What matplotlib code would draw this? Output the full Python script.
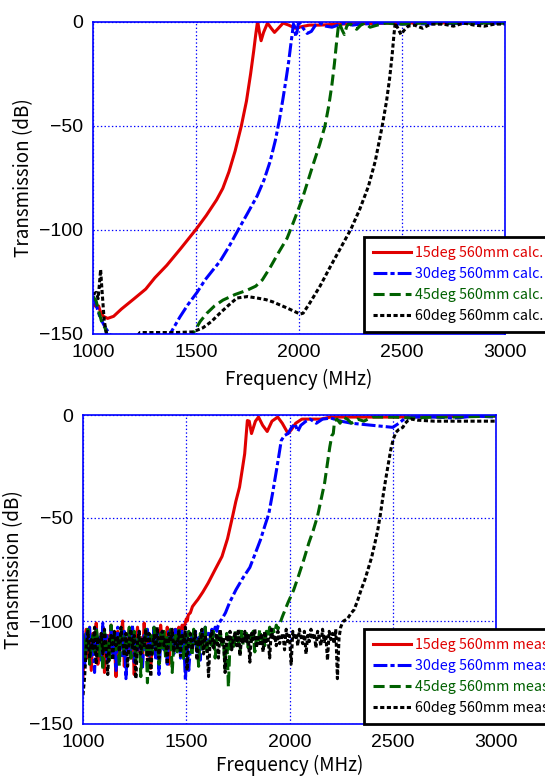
import numpy as np
import matplotlib
matplotlib.use("Agg")
import matplotlib.pyplot as plt

plt.rcParams['lines.scale_dashes'] = False
plt.rcParams['axes.unicode_minus'] = True

# ---------------- calculated curves (top) ----------------
calc15_f = [1000, 1010, 1020, 1027, 1035, 1050, 1071, 1100, 1138, 1200, 1256, 1300, 1358, 1425, 1501,
            1550, 1600, 1630, 1660, 1690, 1720, 1745, 1765, 1780, 1790, 1797, 1800, 1808, 1816, 1828,
            1847, 1865, 1881, 1900, 1923, 1950, 1982, 2000, 2050, 2100, 2200, 2300, 2500, 3000]
calc15_db = [-136, -136.5, -137, -136.5, -139, -141.5, -142.5, -141.5, -138, -133, -128.4, -123, -117, -109, -99.6,
             -93, -85.5, -80, -72, -62, -50, -38, -25, -14, -6, -1, 0, -5, -9, -5,
             -0.5, -3, -5, -3, -0.5, -1.5, -3, -2.5, -1.5, -1.5, -1, -0.8, -0.5, -0.3]

calc30_f = [1000, 1015, 1034, 1060, 1085, 1110, 1250, 1374, 1422, 1460, 1505, 1544, 1580, 1617, 1660,
            1699, 1750, 1797, 1830, 1860, 1885, 1905, 1922, 1938, 1950, 1960, 1968, 1973, 1978, 1984, 1990,
            1996, 2005, 2020, 2040, 2060, 2080, 2100, 2130, 2160, 2190, 2220, 2260, 2300, 2400, 2500, 3000]
calc30_db = [-132, -136, -142, -147, -150.5, -153, -165, -150, -141.8, -136, -130, -124, -119.5, -115, -108,
             -101, -92, -83.6, -76, -67, -57, -47, -37, -27, -19, -11, -5, -1, -2, -7, -5,
             -1, -0.5, -3, -5.5, -4.5, -1.5, -0.5, -2, -2.5, -1.5, -0.5, -1.5, -1, -0.5, -1, -0.5]

calc45_f = [1000, 1015, 1030, 1045, 1058, 1070, 1200, 1400, 1485, 1520, 1553, 1590, 1631, 1690, 1747,
            1790, 1822, 1860, 1900, 1942, 1974, 2016, 2067, 2100, 2126, 2145, 2160, 2172, 2181, 2190, 2196,
            2210, 2220, 2232, 2245, 2260, 2280, 2300, 2320, 2345, 2380, 2420, 2500, 2600, 3000]
calc45_db = [-132, -134, -140, -145, -147, -151, -170, -165, -150, -144, -140, -136.5, -133.7, -131, -129,
             -127, -124, -118, -111, -104, -96, -85, -69, -59, -50, -40, -30, -20, -11, -3, -0.5,
             -4, -6, -2, -0.5, -2, -3.5, -1.5, -0.5, -2.5, -1.5, -0.5, -1, -0.5, -0.5]

calc60_f = [1000, 1015, 1025, 1032, 1037, 1043, 1054, 1062, 1075, 1150, 1215, 1228, 1300, 1400, 1485,
            1534, 1575, 1616, 1660, 1699, 1750, 1796, 1840, 1874, 1942, 2005, 2020, 2053, 2102, 2150,
            2200, 2252, 2295, 2337, 2370, 2404, 2425, 2440, 2452, 2461, 2467, 2480, 2495, 2510, 2530,
            2560, 2600, 2640, 2700, 2750, 2800, 2850, 2900, 2950, 3000]
calc60_db = [-131, -130, -133, -125, -119, -128, -143, -148, -155, -165, -151, -149.3, -149.3, -149.3, -149,
             -147, -144, -140, -136, -132.7, -132, -132.7, -133.5, -134.6, -137.5, -140.4, -140, -135, -127, -118,
             -109, -99.6, -90, -79, -67, -50, -38, -27, -16, -6, -0.5, -3, -6, -4, -2,
             -1.5, -3, -1, -1, -2, -0.5, -1.5, -2, -1, -1]

# ---------------- measured curves (bottom) ----------------
# noise floor values, read every 8 MHz from 1000 MHz
noise_step = 8
meas15_noise = [
    -127, -111, -104, -118, -108, -124, -106, -113, -101, -121,
    -109, -116, -103, -125, -110, -107, -119, -102, -114, -111,
    -127, -105, -117, -108, -100, -122, -109, -113, -104, -118,
    -106, -126, -111, -103, -115, -108, -120, -101, -112, -117,
    -107, -123, -110, -104, -114, -109, -119, -102, -111, -106,
    -116, -103, -121, -108, -105, -112, -104, -109, -103, -106,
    -102, -104]
meas15_f = [1495, 1500, 1505, 1510, 1520, 1530, 1545, 1556, 1580, 1606, 1640, 1673, 1700, 1724, 1740,
            1758, 1772, 1783, 1790, 1796, 1805, 1816, 1835, 1850, 1870, 1892, 1915, 1943, 1965, 1993,
            2010, 2030, 2060, 2100, 2150, 2200, 2300, 2500, 3000]
meas15_db = [-101, -99, -100, -97, -96, -93, -91, -89.6, -86, -81.6, -75, -68.7, -60, -49.4, -42,
             -35, -26, -18.8, -10, -2.7, -3, -9, -3, -1, -5, -8, -3, -1, -4, -9,
             -7, -4, -2, -2, -2, -1, -1, -1, -0.5]

meas30_noise = [
    -110, -122, -106, -114, -103, -117, -109, -125, -104, -112,
    -108, -119, -101, -115, -107, -121, -110, -104, -116, -109,
    -124, -103, -113, -108, -118, -105, -128, -111, -106, -114,
    -102, -120, -109, -115, -105, -112, -123, -107, -110, -104,
    -117, -108, -113, -103, -119, -106, -126, -110, -105, -114,
    -109, -121, -104, -111, -108, -116, -103, -112, -107, -118,
    -105, -110, -129, -108, -124, -113, -106, -111, -104, -116,
    -108, -119, -105, -110, -103, -112, -106, -109, -104, -107,
    -103, -105]
meas30_f = [1655, 1665, 1673, 1690, 1710, 1741, 1775, 1808, 1835, 1859, 1880, 1900, 1918, 1934, 1948,
            1960, 1975, 1993, 2010, 2027, 2040, 2055, 2080, 2100, 2130, 2160, 2200, 2250, 2300, 2350,
            2400, 2450, 2500, 2530, 2560, 2600, 2700, 2800, 2900, 3000]
meas30_db = [-102, -100, -99, -96, -91, -84.8, -79, -74, -67, -60.7, -54, -47.8, -38, -28.5, -20,
             -12.4, -10, -9, -6, -4.3, -8, -5, -3, -2, -4, -2, -1.5, -3, -4, -4.5,
             -5, -5.5, -6, -4, -1.5, -1, -1, -1.5, -0.5, -1]

meas45_noise = [
    -106, -118, -109, -104, -121, -112, -107, -115, -103, -110,
    -117, -108, -124, -105, -113, -109, -119, -102, -111, -106,
    -114, -108, -122, -104, -110, -116, -107, -112, -103, -118,
    -109, -105, -120, -111, -106, -127, -108, -114, -104, -130,
    -110, -107, -116, -103, -112, -109, -121, -106, -113, -105,
    -118, -108, -111, -104, -125, -110, -107, -115, -103, -112,
    -109, -119, -106, -113, -105, -110, -117, -104, -111, -108,
    -122, -106, -114, -109, -103, -116, -110, -107, -112, -105,
    -118, -108, -111, -104, -113, -109, -123, -106, -132, -110,
    -107, -114, -105, -111, -108, -116, -104, -112, -109, -106,
    -113, -107, -110, -105, -115, -108, -111, -104, -109, -106,
    -112, -105, -108, -103, -107, -104, -106, -102, -104, -101]
meas45_f = [1958, 1965, 1993, 2020, 2044, 2070, 2094, 2115, 2136, 2155, 2170, 2183, 2195, 2205, 2212,
            2218, 2230, 2245, 2260, 2280, 2300, 2330, 2360, 2400, 2500, 2600, 2700, 2800, 3000]
meas45_db = [-100, -98, -91, -85, -78, -70, -62, -56, -49, -40, -33, -24, -15.6, -10, -9,
             -3, -2, -4, -1, -2, -4, -2, -3, -1, -1, -1.5, -1, -1, -0.5]

meas60_noise = [
    -136, -127, -112, -105, -118, -109, -114, -103, -121, -108,
    -111, -106, -116, -104, -113, -126, -109, -107, -119, -105,
    -112, -108, -115, -103, -110, -117, -106, -122, -109, -104,
    -113, -107, -128, -110, -105, -116, -108, -112, -104, -119,
    -106, -127, -111, -107, -114, -103, -118, -109, -105, -112,
    -108, -121, -106, -110, -104, -115, -109, -113, -105, -117,
    -107, -111, -103, -124, -108, -106, -114, -110, -105, -119,
    -109, -112, -104, -116, -107, -111, -127, -108, -105, -113,
    -109, -106, -118, -104, -111, -108, -125, -107, -110, -105,
    -114, -109, -106, -112, -104, -117, -108, -111, -105, -110,
    -107, -120, -106, -109, -104, -113, -108, -111, -106, -115,
    -105, -110, -108, -118, -104, -109, -107, -112, -105, -111,
    -108, -106, -114, -104, -110, -107, -121, -105, -109, -106,
    -112, -104, -108, -111, -105, -116, -107, -110, -104, -109,
    -106, -113, -105, -108, -112, -104, -110, -107, -119, -105,
    -109, -106, -111, -104, -128, -108, -103, -101]
meas60_f = [2262, 2280, 2300, 2313, 2330, 2347, 2365, 2380, 2398, 2414, 2427, 2439, 2452, 2465, 2478,
            2490, 2502, 2515, 2530, 2549, 2560, 2574, 2590, 2620, 2700, 2800, 2900, 3000]
meas60_db = [-100, -99, -96, -94.5, -90, -84.8, -80, -75, -69, -62, -56, -49, -40, -31.7, -24,
             -17, -12, -8.4, -7, -6, -4, -2.7, -2, -2.5, -3, -3, -3, -3]


def join(noise, f, db):
    nf = 1000 + noise_step * np.arange(len(noise))
    return np.concatenate([nf, f]), np.concatenate([noise, db])


styles = [
    dict(color='#e00000', linestyle='-'),
    dict(color='#0000ff', dashes=(10, 2.2, 3, 2.2)),
    dict(color='#006000', dashes=(8, 3.6)),
    dict(color='#000000', dashes=(3, 1.8)),
]
angles = ['15deg', '30deg', '45deg', '60deg']

fig = plt.figure(figsize=(5.45, 7.78), dpi=100)
ax1 = fig.add_axes([93/545, 1-334/778, 412/545, 312/778])
ax2 = fig.add_axes([83/545, 1-724/778, 413/545, 309/778])

calc = [(calc15_f, calc15_db), (calc30_f, calc30_db), (calc45_f, calc45_db), (calc60_f, calc60_db)]
meas = [join(meas15_noise, meas15_f, meas15_db), join(meas30_noise, meas30_f, meas30_db),
        join(meas45_noise, meas45_f, meas45_db), join(meas60_noise, meas60_f, meas60_db)]

for (f, db), st, a in zip(calc, styles, angles):
    ax1.plot(f, db, lw=2.2, label=a + ' 560mm calc.', **st)
for (f, db), st, a in zip(meas, styles, angles):
    ax2.plot(f, db, lw=2.2, label=a + ' 560mm meas.', **st)

for ax, anchor, xpad in ((ax1, (271/412, 97/312), 6), (ax2, (281/413, 95/309), 3)):
    ax.set_xlim(1000, 3000)
    ax.set_ylim(-150, 0)
    ax.set_xticks([1000, 1500, 2000, 2500, 3000])
    ax.set_yticks([-150, -100, -50, 0])
    ax.grid(True, color='#0000ff', linestyle=':', linewidth=0.9)
    for s in ax.spines.values():
        s.set_color('#0000ff')
        s.set_linewidth(1.2)
    ax.tick_params(length=0, pad=7, labelsize=14)
    for lab in ax.get_xticklabels() + ax.get_yticklabels():
        lab.set_family('Liberation Sans')
    ax.set_xlabel('Frequency (MHz)', family='Noto Sans CJK JP', fontsize=13.5, labelpad=xpad)
    ax.set_ylabel('Transmission (dB)', family='Noto Sans CJK JP', fontsize=13.5, labelpad=4)
    leg = ax.legend(loc='upper left', bbox_to_anchor=anchor, borderaxespad=0,
                    prop=dict(family='Noto Sans CJK JP', size=10.3),
                    handlelength=2.7, handletextpad=0.25, labelspacing=0.5,
                    borderpad=0.6, fancybox=False, framealpha=1, edgecolor='black')
    leg.get_frame().set_linewidth(2)
    for t, st in zip(leg.get_texts(), styles):
        t.set_color(st['color'])

fig.savefig('out.png', dpi=100)
